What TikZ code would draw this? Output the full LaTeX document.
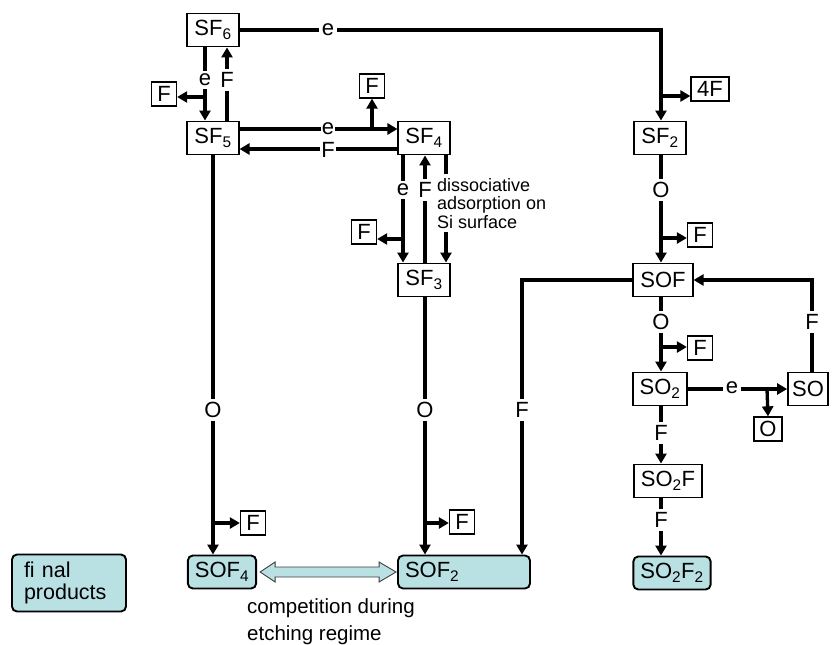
\documentclass[tikz,border=0pt]{standalone}
\usepackage{fontspec}
\setmainfont{Liberation Sans}
\usetikzlibrary{calc,positioning,arrows.meta}
\definecolor{Final}{HTML}{B9E1E4}
\definecolor{Rim}{HTML}{404040}

\begin{document}
\begin{tikzpicture}[x=1pt,y=-1pt,
  species/.style={draw,line width=1.9pt,inner xsep=7pt,inner ysep=2pt,minimum height=33pt,font=\fontsize{22}{24}\selectfont},
  final/.style={species,fill=Final,rounded corners=5pt},
  gas/.style={draw,line width=1.3pt,inner sep=1pt,minimum width=25pt,minimum height=24pt,font=\fontsize{22}{24}\selectfont},
  lbl/.style={fill=white,inner sep=3pt,font=\fontsize{22}{24}\selectfont},
  arr/.style={line width=3.3pt,-{Triangle[length=10pt,width=11pt]}},
  dbl/.style={draw=Rim,fill=Final,line width=0.9pt,line join=miter}
]
\useasboundingbox (0,0) rectangle (833,645);
% species
\node[species] (sf6) at (213,30) {SF\textsubscript{6}};
\node[species] (sf5) at (213,138) {SF\textsubscript{5}};
\node[species] (sf4) at (424,138) {SF\textsubscript{4}};
\node[species] (sf3) at (424,280) {SF\textsubscript{3}};
\node[species] (sf2) at (660,138) {SF\textsubscript{2}};
\node[species] (sof) at (663,280) {SOF};
\node[species] (so2) at (660,389) {SO\textsubscript{2}};
\node[species,inner xsep=4pt] (so) at (808,389) {SO};
\node[species] (so2f) at (668,481) {SO\textsubscript{2}F};
% final products
\node[final] (sof4) at (222,572) {SOF\textsubscript{4}};
\node[final,text width=118pt,inner xsep=7pt,align=left] (sof2) at (464,572) {SOF\textsubscript{2}};
\node[final] (so2f2) at (672,573) {SO\textsubscript{2}F\textsubscript{2}};
\node[final,text width=90pt,inner xsep=12pt,minimum height=57pt,align=left,font=\fontsize{21.5}{22}\selectfont] (fin) at (69,583) {fi nal\\products};
% released species
\node[gas] (fa) at (164,94) {F};
\node[gas] (fb) at (372,86) {F};
\node[gas,minimum width=38pt] (f4) at (710,89) {4F};
\node[gas] (fc) at (700,235) {F};
\node[gas] (fd) at (700,348) {F};
\node[gas,minimum width=28pt] (oa) at (768,429) {O};
\node[gas] (fe) at (364,232) {F};
\node[gas] (ff) at (253,523) {F};
\node[gas] (fg) at (462,522) {F};

% SF6 -> SF2
\draw[arr] (sf6.east) -| ([xshift=1pt]sf2.north);
\node[lbl] at (328,30) {e};
\coordinate (c4) at (661,96);
\draw[arr] (c4) -- (c4 -| f4.west);
% SF6 <-> SF5
\draw[arr] ([xshift=-8pt]sf6.south) -- ([xshift=-8pt]sf5.north);
\draw[arr] ([xshift=14pt]sf5.north) -- ([xshift=14pt]sf6.south);
\node[lbl] at (205,80) {e};
\node[lbl] at (227,80) {F};
\coordinate (c5) at (205,97);
\draw[arr] (c5) -- (c5 -| fa.east);
% SF5 <-> SF4
\draw[arr] ([yshift=9pt]sf5.east) -- ([yshift=9pt]sf4.west);
\draw[arr] ([yshift=-11pt]sf4.west) -- ([yshift=-11pt]sf5.east);
\node[lbl,inner sep=1pt] at (328,129) {e};
\node[lbl,inner sep=1pt] at (328,150) {F};
\coordinate (c6) at (372,129);
\draw[arr] (c6) -- (fb.south);
% SF4 <-> SF3
\draw[arr] ([xshift=-21pt]sf4.south) -- ([xshift=-21pt]sf3.north);
\draw[arr] ([xshift=1pt]sf3.north) -- ([xshift=1pt]sf4.south);
\draw[arr] ([xshift=22pt]sf4.south) -- ([xshift=22pt]sf3.north);
\node[lbl] at (403,190) {e};
\node[lbl] at (425,190) {F};
\node[fill=white,anchor=north west,inner xsep=2pt,inner ysep=4pt,align=left,font=\fontsize{18}{18.5}\selectfont] (ads) at (435,174) {dissociative\\adsorption on\\Si surface};
\coordinate (c7) at (403,239);
\draw[arr] (c7) -- (c7 -| fe.east);
% SF2 -> SOF -> SO2
\draw[arr] ([xshift=1pt]sf2.south) -- ([xshift=1pt]sf2.south |- sof.north);
\node[lbl] at (661,190) {O};
\coordinate (c8) at (661,238);
\draw[arr] (c8) -- (c8 -| fc.west);
\draw[arr] ([xshift=-2pt]sof.south) -- ([xshift=-2pt]sof.south |- so2.north);
\node[lbl] at (661,322) {O};
\coordinate (c9) at (661,347);
\draw[arr] (c9) -- (c9 -| fd.west);
% SO2 -> SO -> SOF
\draw[arr] (so2.east) -- (so.west);
\node[lbl] at (732,388) {e};
\coordinate (c10) at (767,389);
\draw[arr] (c10) -- (oa.north);
\draw[arr] ([xshift=4pt]so.north) |- (sof.east);
\node[lbl] at (812,322) {F};
% SO2 -> SO2F -> SO2F2
\draw[arr] ([xshift=1pt]so2.south) -- ([xshift=1pt]so2.south |- so2f.north);
\node[lbl] at (661,433) {F};
\draw[arr] ([xshift=1pt]so2.south |- so2f.south) -- ([xshift=1pt]so2.south |- so2f2.north);
\node[lbl] at (661,520) {F};
% to SOF4 and SOF2
\draw[arr] (sf5.south) -- (sf5.south |- sof4.north);
\node[lbl] at (213,410) {O};
\coordinate (c11) at (213,523);
\draw[arr] (c11) -- (c11 -| ff.west);
\draw[arr] ([xshift=1pt]sf3.south) -- ([xshift=1pt]sf3.south |- sof2.north);
\node[lbl] at (425,410) {O};
\coordinate (c12) at (425,523);
\draw[arr] (c12) -- (c12 -| fg.west);
\draw[arr] (sof.west) -| ([xshift=58pt]sof2.north);
\node[lbl] at (522,410) {F};
% competition
\draw[dbl] let \p1=(sof4.east), \p2=(sof2.west) in
  (\x1+3pt,\y1) -- (\x1+18pt,\y1+10pt) -- (\x1+18pt,\y1+5pt) -- (\x2-18pt,\y2+5pt) -- (\x2-18pt,\y2+10pt)
  -- (\x2-1pt,\y2) -- (\x2-18pt,\y2-10pt) -- (\x2-18pt,\y2-5pt) -- (\x1+18pt,\y1-5pt) -- (\x1+18pt,\y1-10pt) -- cycle;
\node[anchor=west,align=left,inner sep=0pt,font=\fontsize{20.5}{27}\selectfont] (comp) at (247,622) {competition during\\etching regime};
\end{tikzpicture}
\end{document}
